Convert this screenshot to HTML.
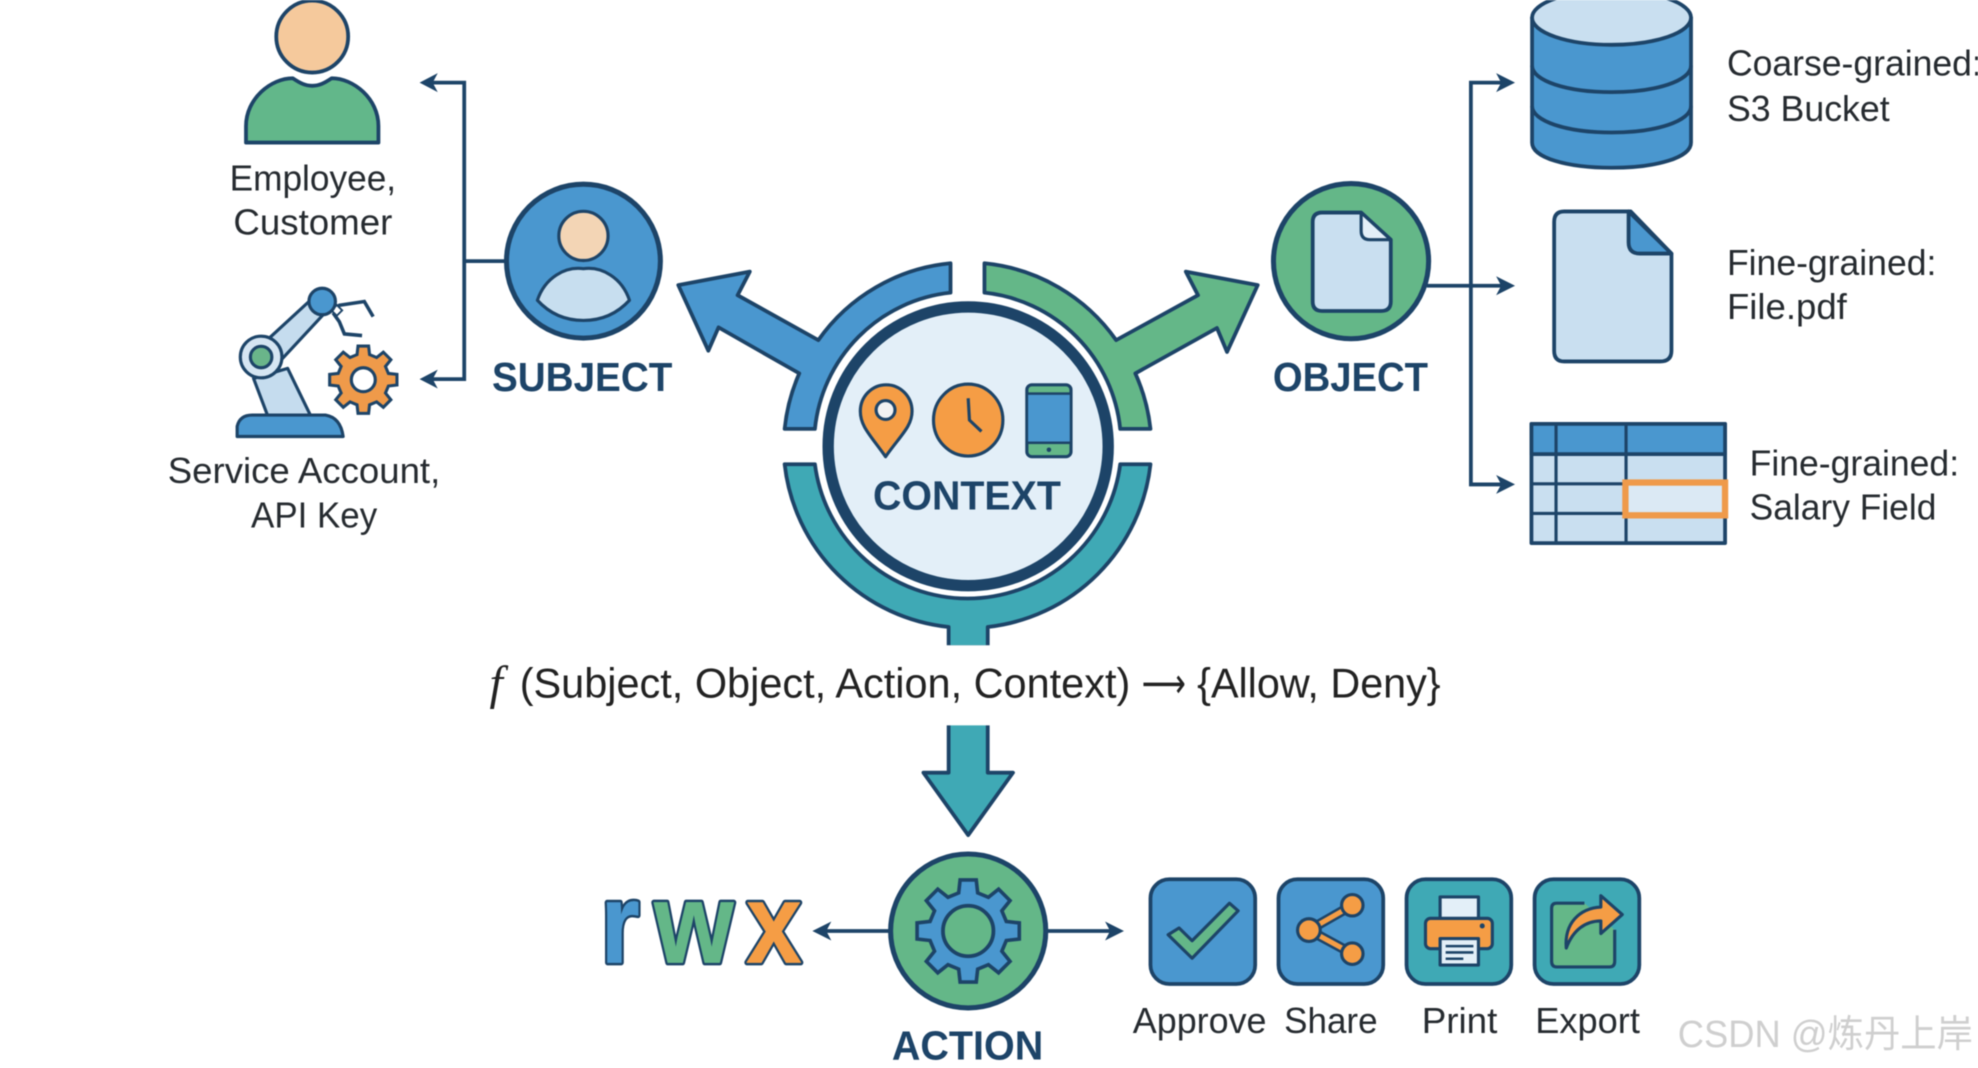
<!DOCTYPE html>
<html>
<head>
<meta charset="utf-8">
<style>
html,body{margin:0;padding:0;background:#fff;width:1978px;height:1068px;overflow:hidden}
svg{display:block;filter:blur(.6px)}
text{font-family:"Liberation Sans","Noto Sans CJK SC",sans-serif}
.l{font-size:29px;fill:#262b30}
.b{font-size:32px;font-weight:bold;fill:#1d4468}
.o{stroke:#1d4468;stroke-width:3;stroke-linejoin:round}
.t{stroke:#1d4468;stroke-width:2.5;stroke-linejoin:round}
.rwx{font-size:90px;font-weight:bold;stroke-linejoin:round}
</style>
</head>
<body>
<svg width="1978" height="1068" viewBox="0 0 1568 846.6" xmlns="http://www.w3.org/2000/svg">
<defs>
<polygon id="g" points="73.7,-18.4 98.8,-15.6 98.8,15.6 73.7,18.4 65.1,39.1 80.9,58.8 58.8,80.9 39.1,65.1 18.4,73.7 15.6,98.8 -15.6,98.8 -18.4,73.7 -39.1,65.1 -58.8,80.9 -80.9,58.8 -65.1,39.1 -73.7,18.4 -98.8,15.6 -98.8,-15.6 -73.7,-18.4 -65.1,-39.1 -80.9,-58.8 -58.8,-80.9 -39.1,-65.1 -18.4,-73.7 -15.6,-98.8 15.6,-98.8 18.4,-73.7 39.1,-65.1 58.8,-80.9 80.9,-58.8 65.1,-39.1"/>
</defs>
<rect width="1568" height="847" fill="#fff"/>

<!-- top person -->
<circle cx="247.500" cy="29" r="28.500" fill="#f5c99c" class="o"/>
<path d="M195 113 V100 C195 78 215 62 232 62 C238 66 242 68 247.500 68 C253 68 257 66 263 62 C280 62 300 78 300 100 V113 Z" fill="#62b78a" class="o"/>
<text class="l" x="182" y="151" textLength="132" lengthAdjust="spacingAndGlyphs">Employee,</text>
<text class="l" x="185" y="186" textLength="126" lengthAdjust="spacingAndGlyphs">Customer</text>

<!-- robot -->
<path d="M201 300 L228 292 L246 329 L212 329 Z" fill="#c5dcee" class="t"/>
<path d="M214 267.500 L246 238 L257.600 248 L223.600 284.500 Z" fill="#c5dcee" class="t"/>
<path d="M188 346 V338 Q190 329 200 329 H258 Q270 331 272 346 Z" fill="#4a97cf" class="t"/>
<circle cx="207" cy="283" r="16.500" fill="#d5e5f2" class="t"/>
<circle cx="207" cy="283" r="8.500" fill="#6ab58a" class="t"/>
<path d="M264 246 L269 242 L288.800 239 L295.800 251 M264 248 L269 255 L273 264.700 L287 266" fill="none" stroke="#1d4468" stroke-width="2.800"/>
<rect x="264" y="243" width="6" height="6" transform="rotate(45 267 246)" fill="#fff" stroke="#1d4468" stroke-width="1.500"/>
<circle cx="255.400" cy="239" r="10.500" fill="#4a97cf" class="t"/>
<use href="#g" transform="translate(288,301) scale(.27)" fill="#ef9a4a" stroke="#1d4468" stroke-width="9"/>
<circle cx="288" cy="301" r="9.500" fill="#fff" class="t"/>
<text class="l" x="133" y="383" textLength="216" lengthAdjust="spacingAndGlyphs">Service Account,</text>
<text class="l" x="199" y="418" textLength="100" lengthAdjust="spacingAndGlyphs">API Key</text>

<!-- subject connectors -->
<path d="M340 65.500 H368 V300.500 H340 M368 207 H402" fill="none" stroke="#1d4468" stroke-width="3"/>
<polygon points="332.600,65.500 347,58 343,65.500 347,73" fill="#1d4468"/>
<polygon points="332.600,300.500 347,293 343,300.500 347,308" fill="#1d4468"/>

<!-- subject -->
<circle cx="462.500" cy="207" r="61" fill="#4a97cf" stroke="#1d4468" stroke-width="4"/>
<circle cx="462.500" cy="187" r="19.500" fill="#f3d5b5" class="t"/>
<path d="M426 238 C432 220 448 211 462.500 213 C477 211 493 220 499 238 C488 250 475 254 462.500 254 C450 254 437 250 426 238 Z" fill="#c7deef" class="t"/>
<text class="b" x="390" y="310" textLength="143" lengthAdjust="spacingAndGlyphs">SUBJECT</text>

<!-- centre: blue, green, teal arcs -->
<path d="M622 340 A145 145 0 0 1 633.600 296 L569.600 259.500 L561.500 278 L537.700 226 L594.400 215.300 L584.700 234 L648.700 269.600 A145 145 0 0 1 753.500 208.700 L753.500 232 A121 121 0 0 0 646 340 Z" fill="#4a97cf" class="o"/>
<path d="M912 340 A145 145 0 0 0 900 296 L964.700 260 L972.700 279 L997 226 L940 215.300 L949.700 234 L884.800 269.600 A145 145 0 0 0 780.400 208.700 L780.400 232 A121 121 0 0 1 888 340 Z" fill="#64b788" class="o"/>
<path d="M622 368 H646 A122 122 0 0 0 888 368 H912 A146 146 0 0 1 783 497 V513 H752 V497 A146 146 0 0 1 622 368 Z" fill="#3fa9b5" class="o"/>
<rect x="750" y="511.500" width="35" height="5" fill="#fff"/>
<ellipse cx="767.500" cy="353.800" rx="111" ry="110.500" fill="#e3eff8" stroke="#1d4468" stroke-width="9"/>

<!-- pin -->
<path d="M702 362 C690 345 682 338 682 326 A20.500 21 0 0 1 723 326 C723 338 714 345 702 362 Z" fill="#f59d45" class="t"/>
<circle cx="702" cy="325" r="7.500" fill="#f2f2f2" class="t"/>
<!-- clock -->
<ellipse cx="767.500" cy="333" rx="27.500" ry="28.500" fill="#f59d45" class="t"/>
<path d="M767.500 315.700 L768.500 333 L778 342" fill="none" stroke="#1d4468" stroke-width="2.500"/>
<!-- phone -->
<rect x="814" y="305" width="35" height="57" rx="4" fill="#64b788" class="t"/>
<rect x="814" y="312" width="35" height="39" fill="#4a97cf" stroke="#1d4468" stroke-width="2"/>
<circle cx="831.500" cy="356.500" r="1.800" fill="#1d4468"/>
<text class="b" x="692" y="404" textLength="149" lengthAdjust="spacingAndGlyphs">CONTEXT</text>

<!-- object -->
<circle cx="1071" cy="207" r="61.500" fill="#64b788" stroke="#1d4468" stroke-width="4"/>
<path d="M1048 168.500 H1079 L1102.500 190 V239 Q1102.500 246.500 1095 246.500 H1048 Q1040.600 246.500 1040.600 239 V176 Q1040.600 168.500 1048 168.500 Z" fill="#c9dff0" class="o"/>
<path d="M1079 168.500 V183 Q1079 190 1086 190 H1102.500 Z" fill="#e3eff8" class="t"/>
<text class="b" x="1009" y="310" textLength="123" lengthAdjust="spacingAndGlyphs">OBJECT</text>

<!-- object connectors -->
<path d="M1192 65.500 H1166 V384 H1192 M1131 226.500 H1192" fill="none" stroke="#1d4468" stroke-width="3"/>
<polygon points="1201,65.500 1186,58 1190,65.500 1186,73" fill="#1d4468"/>
<polygon points="1201,226.500 1186,219 1190,226.500 1186,234" fill="#1d4468"/>
<polygon points="1201,384 1186,376.500 1190,384 1186,391.500" fill="#1d4468"/>

<!-- cylinder -->
<path d="M1214.500 14 V113 C1214.500 125 1242 133 1277.500 133 C1313 133 1340.500 125 1340.500 113 V14 Z" fill="#4a97cf" class="o"/>
<ellipse cx="1277.500" cy="14" rx="63" ry="21.500" fill="#c9dff0" class="o"/>
<path d="M1214.500 52 C1214.500 64 1242 73 1277.500 73 C1313 73 1340.500 64 1340.500 52 M1214.500 84 C1214.500 96 1242 105 1277.500 105 C1313 105 1340.500 96 1340.500 84" fill="none" stroke="#1d4468" stroke-width="3"/>
<text class="l" x="1369" y="60" textLength="202" lengthAdjust="spacingAndGlyphs">Coarse-grained:</text>
<text class="l" x="1369" y="96" textLength="129" lengthAdjust="spacingAndGlyphs">S3 Bucket</text>

<!-- file -->
<path d="M1240 167.600 H1292.700 L1325 201 V278 Q1325 286.500 1316 286.500 H1240 Q1232 286.500 1232 278 V176 Q1232 167.600 1240 167.600 Z" fill="#c9dff0" class="o"/>
<path d="M1291 167.600 V192 Q1291 201 1300 201 H1325 Z" fill="#4a97cf" class="o"/>
<text class="l" x="1369" y="218" textLength="166" lengthAdjust="spacingAndGlyphs">Fine-grained:</text>
<text class="l" x="1369" y="253" textLength="95" lengthAdjust="spacingAndGlyphs">File.pdf</text>

<!-- table -->
<rect x="1214" y="336" width="153.500" height="94.500" fill="#c9dff0" class="o"/>
<rect x="1214" y="336" width="153.500" height="24" fill="#4a97cf" class="o"/>
<path d="M1233.500 336 V430 M1289 336 V430 M1214 383.500 H1367 M1214 407 H1367" fill="none" stroke="#1d4468" stroke-width="2.500"/>
<rect x="1288.500" y="382.500" width="79" height="26" fill="#dbe9f4" stroke="#ef9a4a" stroke-width="5"/>
<text class="l" x="1387" y="377" textLength="166" lengthAdjust="spacingAndGlyphs">Fine-grained:</text>
<text class="l" x="1387" y="412" textLength="148" lengthAdjust="spacingAndGlyphs">Salary Field</text>

<!-- formula -->
<text x="388" y="554" font-size="38" font-style="italic" fill="#222" style="font-family:'Liberation Serif',serif">f</text>
<text x="412" y="553" font-size="33" fill="#222" textLength="484" lengthAdjust="spacingAndGlyphs">(Subject, Object, Action, Context)</text>
<text x="905" y="553" font-size="33" fill="#222" textLength="35" lengthAdjust="spacingAndGlyphs" style="font-family:'DejaVu Sans',sans-serif">⟶</text>
<text x="949" y="553" font-size="33" fill="#222" textLength="193" lengthAdjust="spacingAndGlyphs">{Allow, Deny}</text>

<!-- down arrow -->
<path d="M752 574 V612.500 H732 L767.500 662 L803 612.500 H783 V574" fill="#3fa9b5" class="o"/>
<rect x="750" y="572" width="35" height="3" fill="#fff"/>

<!-- rwx: dark outline layer, then colour layer -->
<g stroke="#1d4468" stroke-width="4.500" fill="#1d4468">
<text class="rwx" x="476" y="763" textLength="31" lengthAdjust="spacingAndGlyphs">r</text>
<text class="rwx" x="518.500" y="763" textLength="63" lengthAdjust="spacingAndGlyphs">w</text>
<text class="rwx" x="591.500" y="763" textLength="44" lengthAdjust="spacingAndGlyphs">x</text>
</g>
<text class="rwx" x="476" y="763" textLength="31" lengthAdjust="spacingAndGlyphs" fill="#4a97cf" stroke="#4a97cf" stroke-width=".5">r</text>
<text class="rwx" x="518.500" y="763" textLength="63" lengthAdjust="spacingAndGlyphs" fill="#64b788" stroke="#64b788" stroke-width=".5">w</text>
<text class="rwx" x="591.500" y="763" textLength="44" lengthAdjust="spacingAndGlyphs" fill="#f59d45" stroke="#f59d45" stroke-width=".5">x</text>

<!-- action -->
<path d="M652 738 H706 M830 738 H882" fill="none" stroke="#1d4468" stroke-width="3"/>
<polygon points="644,738 659,730.500 655,738 659,745.500" fill="#1d4468"/>
<polygon points="891,738 876,730.500 880,738 876,745.500" fill="#1d4468"/>
<ellipse cx="767.500" cy="738" rx="61.500" ry="61" fill="#64b788" stroke="#1d4468" stroke-width="4"/>
<use href="#g" transform="translate(767.500,738) scale(.41)" fill="#4a97cf" stroke="#1d4468" stroke-width="7"/>
<circle cx="767.500" cy="738" r="20" fill="#64b788" class="o"/>
<text class="b" x="707" y="840" textLength="120" lengthAdjust="spacingAndGlyphs">ACTION</text>

<!-- approve -->
<rect x="912" y="697" width="83" height="83" rx="15" fill="#4a97cf" class="o"/>
<polygon points="926,741 945,759.600 981.500,722 974.600,716 945,745.700 934.700,735.600" fill="#64b788" class="t"/>
<text class="l" x="898" y="819" textLength="106" lengthAdjust="spacingAndGlyphs">Approve</text>

<!-- share -->
<rect x="1013.500" y="697" width="83" height="83" rx="15" fill="#4a97cf" class="o"/>
<path d="M1072 717.600 L1037.600 737.300 L1072 756" fill="none" stroke="#1d4468" stroke-width="8"/>
<path d="M1072 717.600 L1037.600 737.300 L1072 756" fill="none" stroke="#f59d45" stroke-width="4"/>
<circle cx="1072" cy="717.600" r="8.500" fill="#f59d45" class="t"/>
<circle cx="1037.600" cy="737.300" r="9" fill="#f59d45" class="t"/>
<circle cx="1072" cy="756" r="8.500" fill="#f59d45" class="t"/>
<text class="l" x="1018" y="819" textLength="74" lengthAdjust="spacingAndGlyphs">Share</text>

<!-- print -->
<rect x="1115" y="697" width="83" height="83" rx="15" fill="#3fa9b5" class="o"/>
<rect x="1141.600" y="711" width="30.400" height="18" fill="#e3eff8" class="t"/>
<rect x="1130" y="728" width="53" height="24" rx="4" fill="#f59d45" class="t"/>
<circle cx="1175" cy="734" r="2" fill="#1d4468"/>
<rect x="1141.600" y="744" width="30.400" height="21" fill="#e3eff8" class="t"/>
<path d="M1146 750 H1168 M1146 755 H1168 M1146 760 H1160" stroke="#1d4468" stroke-width="2" fill="none"/>
<text class="l" x="1127" y="819" textLength="60" lengthAdjust="spacingAndGlyphs">Print</text>

<!-- export -->
<rect x="1216.500" y="697" width="83" height="83" rx="15" fill="#3fa9b5" class="o"/>
<path d="M1256 716 H1234 Q1230 716 1230 720 V762 Q1230 766.500 1234 766.500 H1276 Q1280 766.500 1280 762 V737" fill="#64b788" stroke="#1d4468" stroke-width="2.500"/>
<path d="M1241.600 751.500 C1240 732 1252 720 1269 719 L1269 710 L1286 725 L1269 740 L1269 730 C1257 730 1247 737 1241.600 751.500 Z" fill="#f59d45" class="t"/>
<text class="l" x="1217" y="819" textLength="83" lengthAdjust="spacingAndGlyphs">Export</text>

<!-- watermark -->
<text x="1330" y="830" font-size="30" fill="#cfcfcf" textLength="234" lengthAdjust="spacingAndGlyphs">CSDN @炼丹上岸</text>
</svg>
</body>
</html>
